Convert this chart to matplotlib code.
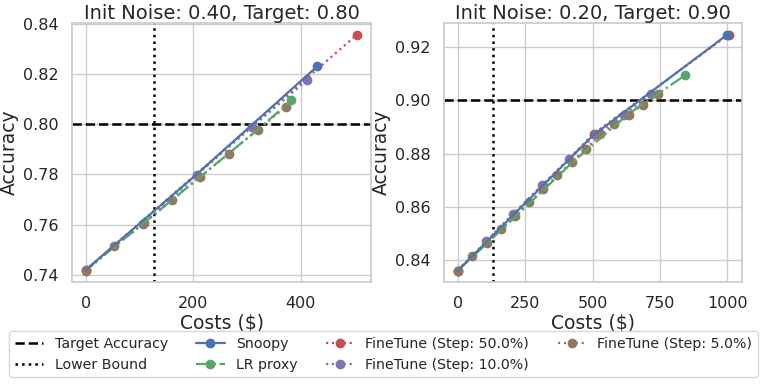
import matplotlib
matplotlib.use("Agg")
import matplotlib.pyplot as plt
import seaborn as sns
from matplotlib.lines import Line2D

sns.set_theme(style="whitegrid")
plt.rcParams["font.family"] = ["DejaVu Sans"]

# left panel: init noise 0.40, target 0.80
l_target = 0.80
l_lower = 127
l_snoopy_x = [0, 206, 431]
l_snoopy_y = [0.742, 0.7800, 0.8232]
l_lr_x = [0, 107, 213, 320, 382.5]
l_lr_y = [0.742, 0.7605, 0.7791, 0.7979, 0.8095]
l_ft50_x = [0, 505]
l_ft50_y = [0.742, 0.8358]
l_ft10_x = [0, 106, 206, 309, 412.5]
l_ft10_y = [0.742, 0.7603, 0.7797, 0.7989, 0.8177]
l_ft5_x = [1, 53, 107.5, 161, 213, 266, 320, 372.5]
l_ft5_y = [0.7417, 0.7513, 0.7605, 0.7698, 0.7791, 0.7883, 0.7979, 0.8070]

# right panel: init noise 0.20, target 0.90
r_target = 0.90
r_lower = 130
r_snoopy_x = [0, 501, 1000]
r_snoopy_y = [0.836, 0.8868, 0.9248]
r_lr_x = [0, 211, 423, 634, 842]
r_lr_y = [0.836, 0.8560, 0.8765, 0.8950, 0.9094]
r_ft50_x = [0, 504, 1005]
r_ft50_y = [0.836, 0.8875, 0.9248]
r_ft10_x = [0, 106, 205, 311, 414, 514, 618, 718]
r_ft10_y = [0.836, 0.8471, 0.8574, 0.8680, 0.8781, 0.8872, 0.8947, 0.9023]
r_ft5_x = [0, 52, 108, 159, 211, 264, 317, 369, 423, 476, 529, 581, 634, 687, 741]
r_ft5_y = [0.8360, 0.8413, 0.8463, 0.8515, 0.8564, 0.8616, 0.8665, 0.8718,
           0.8769, 0.8819, 0.8872, 0.8910, 0.8947, 0.8984, 0.9023]

pal = sns.color_palette("deep")
c_blue, c_green, c_red, c_purple, c_brown = pal[0], pal[2], pal[3], pal[4], pal[5]

fig = plt.figure(figsize=(7.67, 3.84), dpi=100)
ax1 = fig.add_axes([0.0943, 0.2648, 0.389, 0.676])
ax2 = fig.add_axes([0.5793, 0.2648, 0.3885, 0.676])

panels = [
    (ax1, "Init Noise: 0.40, Target: 0.80", l_target, l_lower,
     (l_snoopy_x, l_snoopy_y), (l_lr_x, l_lr_y), (l_ft50_x, l_ft50_y),
     (l_ft10_x, l_ft10_y), (l_ft5_x, l_ft5_y)),
    (ax2, "Init Noise: 0.20, Target: 0.90", r_target, r_lower,
     (r_snoopy_x, r_snoopy_y), (r_lr_x, r_lr_y), (r_ft50_x, r_ft50_y),
     (r_ft10_x, r_ft10_y), (r_ft5_x, r_ft5_y)),
]

ms = 6
lw = 1.6
for ax, title, target, lower, snoopy, lr, ft50, ft10, ft5 in panels:
    ax.plot(*ft50, ":", color=c_red, marker="o", ms=ms, lw=lw, zorder=2)
    ax.plot(*ft10, ":", color=c_purple, marker="o", ms=ms, lw=lw, zorder=3)
    ax.plot(*ft5, ":", color=c_brown, marker="o", ms=ms, lw=lw, zorder=4)
    ax.plot(*lr, "-.", color=c_green, marker="o", ms=ms, lw=lw,
            markevery=[-1], zorder=5)
    ax.plot(*snoopy, "-", color=c_blue, marker="o", ms=ms, lw=lw,
            markevery=[-1], zorder=6)
    ax.axhline(target, color="black", ls="--", lw=1.8, zorder=1)
    ax.axvline(lower, color="black", ls=":", lw=1.8, zorder=1)
    ax.set_title(title, fontsize=14, pad=3)
    ax.set_xlabel("Costs ($)", fontsize=13.5, labelpad=2)
    ax.set_ylabel("Accuracy", fontsize=13.5, labelpad=3)
    ax.tick_params(labelsize=11.5, pad=4)

ax1.set_xticks([0, 200, 400])
ax1.set_yticks([0.74, 0.76, 0.78, 0.80, 0.82, 0.84])
ax2.set_xticks([0, 250, 500, 750, 1000])
ax2.set_yticks([0.84, 0.86, 0.88, 0.90, 0.92])

handles = [
    Line2D([], [], color="black", ls="--", lw=1.8),
    Line2D([], [], color="black", ls=":", lw=1.8),
    Line2D([], [], color=c_blue, ls="-", marker="o", ms=ms, lw=lw),
    Line2D([], [], color=c_green, ls="-.", marker="o", ms=ms, lw=lw),
    Line2D([], [], color=c_red, ls=":", marker="o", ms=ms, lw=lw),
    Line2D([], [], color=c_purple, ls=":", marker="o", ms=ms, lw=lw),
    Line2D([], [], color=c_brown, ls=":", marker="o", ms=ms, lw=lw),
]
labels = ["Target Accuracy", "Lower Bound", "Snoopy", "LR proxy",
          "FineTune (Step: 50.0%)", "FineTune (Step: 10.0%)",
          "FineTune (Step: 5.0%)"]
fig.legend(handles, labels, ncol=4, fontsize=10.2, loc="center",
           bbox_to_anchor=(0.5, 0.078), frameon=True)

fig.savefig("out.png", dpi=100)
